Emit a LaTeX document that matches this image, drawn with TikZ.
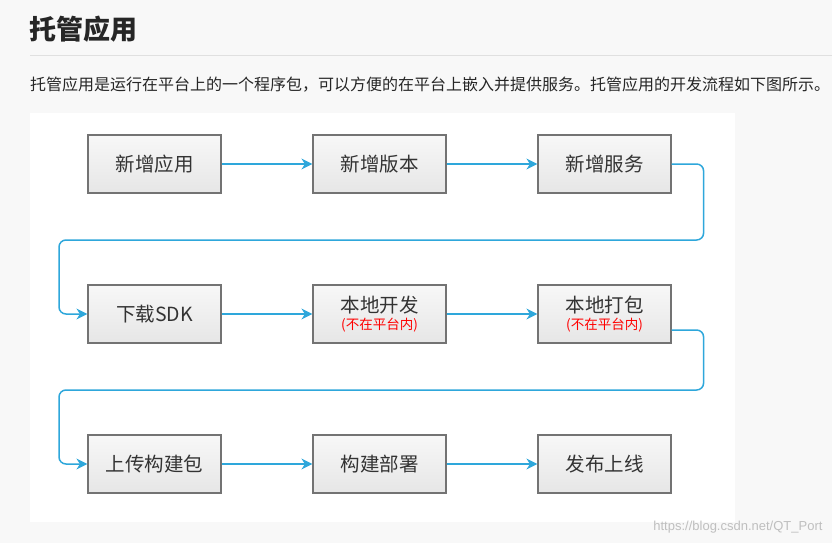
\documentclass[tikz,border=0pt]{standalone}
\usepackage{fontspec}
\setmainfont{Liberation Sans}
\newfontfamily\cjk{Noto Sans CJK SC}
\usetikzlibrary{arrows.meta}
\definecolor{bg}{HTML}{F8F8F8}
\definecolor{ln}{HTML}{2EA7DB}
\definecolor{bx}{HTML}{E6E6E6}
\tikzset{
 box/.style={draw=black!55,line width=1.2pt,top color=bx!30,bottom color=bx,minimum width=133pt,minimum height=58pt,inner sep=0pt,align=center,font=\cjk\fontsize{19.5}{22}\selectfont,text=black!80},
 conn/.style={draw=ln,line width=1.5pt,-{Stealth[length=11pt,width=11pt]},rounded corners=7pt}
}
\begin{document}
\begin{tikzpicture}[x=1pt,y=-1pt]
\fill[bg] (0,0) rectangle (832,543);
\useasboundingbox (0,0) rectangle (832,543);
\fill[white] (30,113) rectangle (735,522);
\draw[black!12,line width=0.8pt] (30,55) -- (832,55);
\node[anchor=west,font=\cjk\bfseries\fontsize{27}{29}\selectfont,text=black!85] (title) at (26,29) {托管应用};
\node[anchor=west,font=\cjk\fontsize{16}{18}\selectfont,text=black!85,inner sep=0pt] (desc) at (30,85) {托管应用是运行在平台上的一个程序包，可以方便的在平台上嵌入并提供服务。托管应用的开发流程如下图所示。};
\node[box] (a1) at (154.5,164) {新增应用};
\node[box] (a2) at (379.5,164) {新增版本};
\node[box] (a3) at (604.5,164) {新增服务};
\node[box] (b1) at (154.5,314) {下载SDK};
\node[box] (b2) at (379.5,314) {本地开发\\[-5pt]{\color{red}\fontsize{13.5}{15}\selectfont (不在平台内)}};
\node[box] (b3) at (604.5,314) {本地打包\\[-5pt]{\color{red}\fontsize{13.5}{15}\selectfont (不在平台内)}};
\node[box] (c1) at (154.5,464) {上传构建包};
\node[box] (c2) at (379.5,464) {构建部署};
\node[box] (c3) at (604.5,464) {发布上线};
\draw[conn] (a1) -- (a2);
\draw[conn] (a2) -- (a3);
\draw[conn] (b1) -- (b2);
\draw[conn] (b2) -- (b3);
\draw[conn] (c1) -- (c2);
\draw[conn] (c2) -- (c3);
\draw[conn] (a3.east) -- ++(32,0) |- (59,240) |- (b1.west);
\draw[conn] ([yshift=-16pt]b3.east) -- ++(32,0) |- (59,390) |- (c1.west);
\node[anchor=east,font=\fontsize{13}{15}\selectfont,text=black!25] (wm) at (826,527) {https://blog.csdn.net/QT\_Port};
\end{tikzpicture}
\end{document}
